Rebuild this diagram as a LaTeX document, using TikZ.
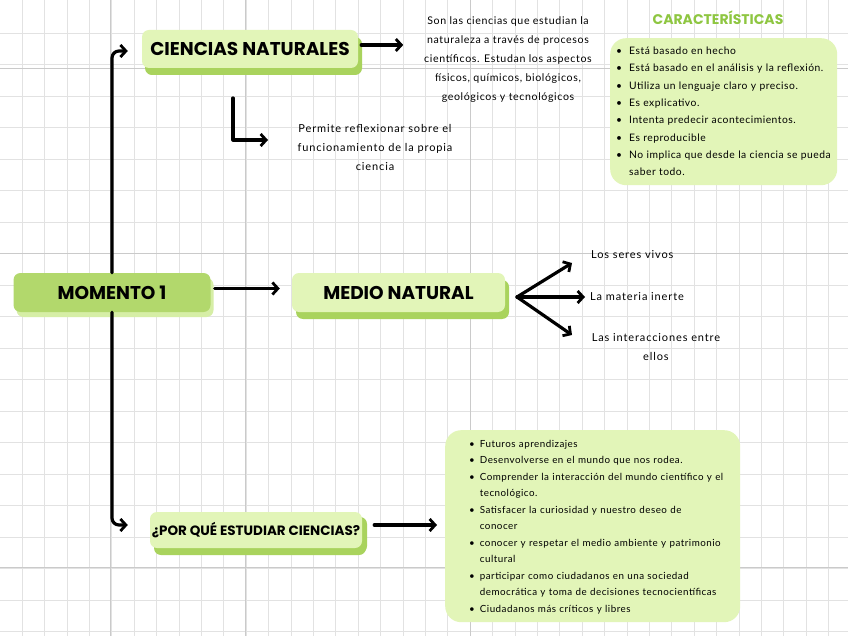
\documentclass[tikz,border=0pt]{standalone}
\usepackage{fontspec}
\setmainfont{Lato}
\newfontfamily\headfont{Poppins}
\newfontfamily\handwide{Lato}[LetterSpace=8]
\newfontfamily\handmid{Lato}[LetterSpace=6]
\newfontfamily\handlist{Lato}[LetterSpace=5]
\usetikzlibrary{arrows.meta,shadows}
\definecolor{darkg}{HTML}{B2D86C}
\definecolor{lightg}{HTML}{E2F5B8}
\definecolor{shadg}{HTML}{A9D35D}
\definecolor{shadl}{HTML}{D6EEA6}
\definecolor{titg}{HTML}{8EC641}
\definecolor{gridc}{HTML}{E2E2E2}
\definecolor{gridd}{HTML}{CACACA}
\tikzset{
  head/.style={font=\headfont\bfseries\fontsize{18.5}{20}\selectfont, rounded corners=7pt, inner sep=0pt, text=black},
  lightbox/.style={head, fill=lightg, drop shadow={shadow xshift=4pt, shadow yshift=-7pt, fill=shadg, opacity=1}},
  darkbox/.style={head, fill=darkg, drop shadow={shadow xshift=3pt, shadow yshift=-5pt, fill=shadl, opacity=1}},
  arr/.style={line width=3.2pt, line cap=round, line join=round, -{Straight Barb[length=5.5pt,width=12pt,line width=2.8pt]}},
  plainwide/.style={font=\handwide\fontsize{11}{19}\selectfont, inner sep=0pt},
  plainmid/.style={font=\handmid\fontsize{10.6}{19}\selectfont, inner sep=0pt},
  listbox/.style={fill=lightg, rounded corners=16pt, inner ysep=0pt, align=left, anchor=north west}
}
\begin{document}
\begin{tikzpicture}[x=1pt,y=-1pt]
\fill[white] (0,0) rectangle (848,636);
\useasboundingbox (0,0) rectangle (848,636);
% grid paper
\foreach \x in {0,...,38} \draw[gridc, line width=0.5pt] ({22+\x*22.4},0) -- ({22+\x*22.4},636);
\foreach \y in {0,...,20} \draw[gridc, line width=0.5pt] (0,{33+\y*31.5}) -- (848,{33+\y*31.5});
\foreach \y in {68,253,567} \draw[gridd, line width=0.7pt] (0,\y) -- (848,\y);
\foreach \x in {110,245,470} \draw[gridd, line width=0.6pt] (\x,0) -- (\x,636);

% main nodes
\node[darkbox, minimum width=197pt, minimum height=39pt] (mom) at (112,292.5) {MOMENTO 1};
\node[lightbox, minimum width=213pt, minimum height=39pt] (med) at (398.5,292.5) {MEDIO NATURAL};
\node[lightbox, minimum width=216pt, minimum height=38pt, drop shadow={shadow xshift=3pt, shadow yshift=-7pt, fill=shadg, opacity=1}] (cn) at (250,49) {CIENCIAS NATURALES};
\node[lightbox, minimum width=212pt, minimum height=36pt, font=\headfont\bfseries\fontsize{13.5}{15}\selectfont, drop shadow={shadow xshift=5pt, shadow yshift=-5pt, fill=shadg, opacity=1}] (pq) at (256,530) {¿POR QUÉ ESTUDIAR CIENCIAS?};

% texts
\node[plainmid, align=center] (cdesc) at (508,60) {Son las ciencias que estudian la\\naturaleza a través de procesos\\científicos. Estudan los aspectos\\físicos, químicos, biológicos,\\geológicos y tecnológicos};
\node[plainwide, align=center] (perm) at (375,147) {Permite reflexionar sobre el\\funcionamiento de la propia\\ciencia};
\node[plainwide, anchor=west] (seres) at (591,255) {Los seres vivos};
\node[plainwide, anchor=west] (mat) at (590,297) {La materia inerte};
\node[plainwide, align=center] (inter) at (656,347) {Las interacciones entre\\ellos};

\node[font=\headfont\bfseries\fontsize{14}{15}\selectfont, text=titg, inner sep=0pt] (ctit) at (718,18) {CARACTERÍSTICAS};

\node[listbox, minimum width=227pt, minimum height=147pt, inner xsep=6pt, text width=215pt] (cbox) at (610,38)
{\handlist\fontsize{10.3}{17.3}\selectfont
\begin{tabular}{@{}l@{\hspace{7pt}}l@{}}
\textbullet & Está basado en hecho\\
\textbullet & Está basado en el análisis y la reflexión.\\
\textbullet & Utiliza un lenguaje claro y preciso.\\
\textbullet & Es explicativo.\\
\textbullet & Intenta predecir acontecimientos.\\
\textbullet & Es reproducible\\
\textbullet & No implica que desde la ciencia se pueda\\
 & saber todo.
\end{tabular}};

\node[listbox, minimum width=295pt, minimum height=192pt, inner xsep=24pt, text width=247pt] (pbox) at (445,430)
{\handlist\fontsize{9.8}{16.5}\selectfont
\begin{tabular}{@{}l@{\hspace{5pt}}l@{}}
\textbullet & Futuros aprendizajes\\
\textbullet & Desenvolverse en el mundo que nos rodea.\\
\textbullet & Comprender la interacción del mundo científico y el\\
 & tecnológico.\\
\textbullet & Satisfacer la curiosidad y nuestro deseo de\\
 & conocer\\
\textbullet & conocer y respetar el medio ambiente y patrimonio\\
 & cultural\\
\textbullet & participar como ciudadanos en una sociedad\\
 & democrática y toma de decisiones tecnocientíficas\\
\textbullet & Ciudadanos más críticos y libres
\end{tabular}};

% connectors
\draw[arr, rounded corners=7pt] (mom.north) |- ([xshift=-14pt,yshift=-2pt]cn.west);
\draw[arr, rounded corners=7pt] (mom.south) |- ([xshift=-22pt,yshift=5pt]pq.west);
\draw[arr] ([xshift=4pt,yshift=4pt]mom.east) -- ([xshift=-12pt,yshift=4pt]med.west);
\draw[arr] ([xshift=3pt,yshift=4pt]cn.east) -- ([xshift=45pt,yshift=4pt]cn.east);
\coordinate (lstart) at (233,98);
\coordinate (lend) at (268,140);
\draw[arr] (lstart) |- (lend);
\coordinate (fork) at (517,297);
\coordinate (e1) at (572,263);
\coordinate (e2) at (585,297);
\coordinate (e3) at (572,335);
\draw[arr] (fork) -- (e1);
\draw[arr] (fork) -- (e2);
\draw[arr] (fork) -- (e3);
\draw[arr] ([xshift=12pt,yshift=5pt]pq.east) -- ([xshift=-8pt,yshift=5pt]pq.east -| pbox.west);
\end{tikzpicture}
\end{document}
